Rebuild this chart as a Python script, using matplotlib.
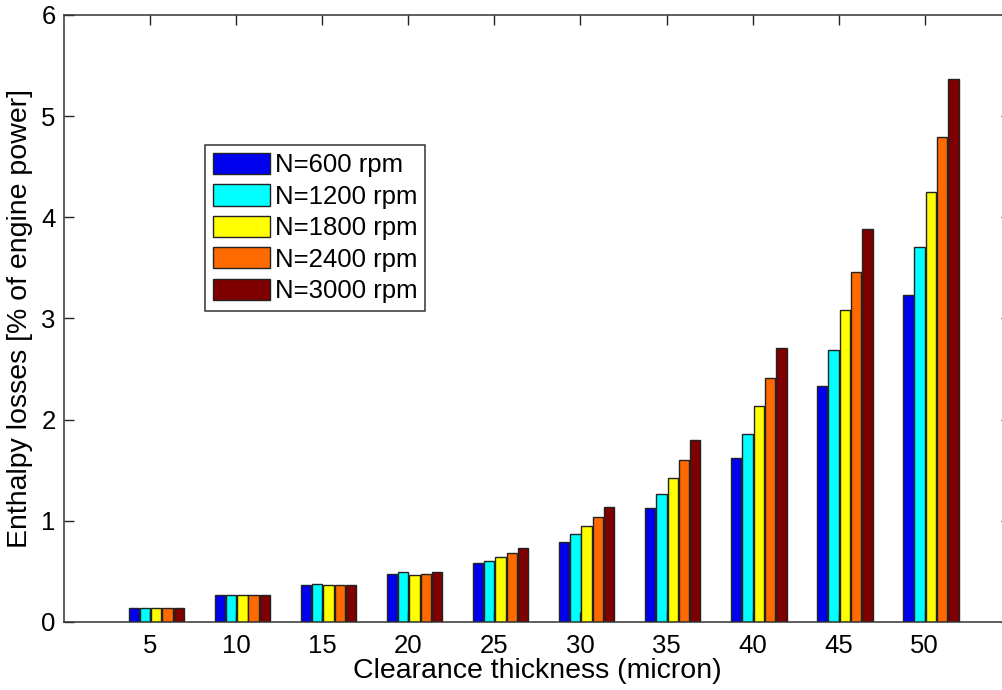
import matplotlib
matplotlib.use("Agg")
import matplotlib.pyplot as plt
import numpy as np

plt.rcParams["font.family"] = ["Liberation Sans", "DejaVu Sans"]

# Data
clearance = [5, 10, 15, 20, 25, 30, 35, 40, 45, 50]
speeds = ["N=600 rpm", "N=1200 rpm", "N=1800 rpm", "N=2400 rpm", "N=3000 rpm"]
loss_600 = [0.14, 0.27, 0.37, 0.47, 0.58, 0.79, 1.13, 1.62, 2.33, 3.23]
loss_1200 = [0.14, 0.27, 0.38, 0.49, 0.60, 0.87, 1.26, 1.86, 2.69, 3.71]
loss_1800 = [0.14, 0.27, 0.37, 0.46, 0.64, 0.95, 1.42, 2.13, 3.08, 4.25]
loss_2400 = [0.14, 0.27, 0.37, 0.47, 0.68, 1.04, 1.60, 2.41, 3.46, 4.79]
loss_3000 = [0.14, 0.27, 0.37, 0.49, 0.73, 1.14, 1.80, 2.71, 3.88, 5.37]

series = [loss_600, loss_1200, loss_1800, loss_2400, loss_3000]
colors = ["#0000f0", "#00ffff", "#ffff00", "#ff6a00", "#7f0000"]

fig = plt.figure(figsize=(10.03, 6.9), dpi=100)
ax = fig.add_axes([0.0638, 0.0986, 0.944, 0.8797])

x = np.array(clearance, dtype=float)
pitch = 0.656
width = 0.6
shift = 0.36
for i, (vals, col, lab) in enumerate(zip(series, colors, speeds)):
    ax.bar(x + shift + (i - 2) * pitch, vals, width, color=col,
           edgecolor="#222222", linewidth=1.0, label=lab, zorder=1)

ax.set_xlim(0, 55)
ax.set_ylim(0, 6)
ax.set_xticks(clearance)
ax.set_yticks([0, 1, 2, 3, 4, 5, 6])
ax.tick_params(direction="in", length=7, width=1, labelsize=18.5,
               top=True, right=True, pad=6, colors="#222222",
               labelcolor="black")
ax.tick_params(axis="x", pad=9)
for sp in ax.spines.values():
    sp.set_linewidth(1.1)
    sp.set_color("#333333")

ax.set_xlabel("Clearance thickness (micron)", fontsize=20.5, labelpad=0)
ax.set_ylabel("Enthalpy losses [% of engine power]", fontsize=20.5, labelpad=6)

leg = ax.legend(loc="upper left", bbox_to_anchor=(205.5 / 1003, 1 - 145 / 690),
                bbox_transform=fig.transFigure, fontsize=18.5, frameon=True,
                fancybox=False, edgecolor="#333333", framealpha=1,
                handlelength=2.2, handleheight=0.9, handletextpad=0.2,
                labelspacing=0.27, borderpad=0.3, borderaxespad=0)
leg.get_frame().set_linewidth(1.1)

fig.savefig("out.png", dpi=100, facecolor="white")
